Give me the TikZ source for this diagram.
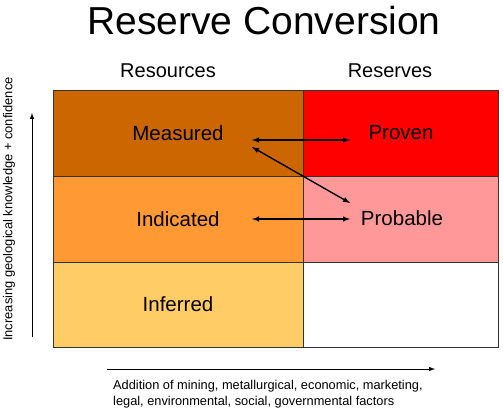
\documentclass[tikz,border=0pt]{standalone}
\usepackage{fontspec}
\setmainfont{Liberation Sans}
\usetikzlibrary{calc}

\definecolor{measuredcol}{HTML}{CC6600}
\definecolor{provencol}{HTML}{FF0000}
\definecolor{indicatedcol}{HTML}{FF9933}
\definecolor{probablecol}{HTML}{FF9999}
\definecolor{inferredcol}{HTML}{FFCC66}

\begin{document}
\begin{tikzpicture}[x=1pt, y=-1pt,
    cell/.style={draw=black!80, line width=0.8pt},
    celltext/.style={font=\fontsize{20.5}{24}\selectfont},
    linkarrow/.style={<->, >=latex, line width=1.4pt}]

    % Fix the page size
    \useasboundingbox (0,0) rectangle (503,412);

    % Title and column heads
    \node (title) at (264,21) {\fontsize{39}{44}\selectfont Reserve Conversion};
    \node (res) at (168,71) {\fontsize{20}{24}\selectfont Resources};
    \node (rsv) at (390,71) {\fontsize{20}{24}\selectfont Reserves};

    % Draw the cells
    \fill[measuredcol] (53,90) rectangle (303,176);
    \fill[provencol] (303,90) rectangle (498,176);
    \fill[indicatedcol] (53,176) rectangle (303,262);
    \fill[probablecol] (303,176) rectangle (498,262);
    \fill[inferredcol] (53,262) rectangle (303,347);
    \draw[cell] (53,90) rectangle (498,347);
    \draw[cell] (303,90) -- (303,347);
    \draw[cell] (53,176) -- (498,176);
    \draw[cell] (53,262) -- (498,262);

    % Cell labels
    \node[celltext] (meas) at (178,133) {Measured};
    \node[celltext] (prov) at (401,133) {Proven};
    \node[celltext] (ind) at (178,219) {Indicated};
    \node[celltext] (prob) at (402,218) {Probable};
    \node[celltext] (inf) at (178,304) {Inferred};

    % Ends of the conversion arrows
    \coordinate (measR) at (252,140);
    \coordinate (measD) at (252,147);
    \coordinate (provL) at (350,140);
    \coordinate (probL) at (350,203);
    \coordinate (indR) at (252,219);
    \coordinate (probM) at (350,219);

    \draw[linkarrow] (measR) -- (provL);
    \draw[linkarrow] (measD) -- (probL);
    \draw[linkarrow] (indR) -- (probM);

    % Axis arrows
    \coordinate (vlow) at (32,337);
    \coordinate (vtop) at (32,113);
    \draw[->, >=latex, line width=1pt] (vlow) -- (vtop);
    \node[rotate=90, font=\fontsize{12.9}{15}\selectfont] (vlab) at (9,209) {Increasing geological knowledge + confidence};

    \coordinate (hlow) at (107,369);
    \coordinate (htop) at (435,369);
    \draw[->, >=latex, line width=1pt] (hlow) -- (htop);
    \node[anchor=north west, align=left, inner sep=0pt, font=\fontsize{12.8}{16}\selectfont] (hlab) at (113,380)
        {Addition of mining, metallurgical, economic, marketing,\\
         legal, environmental, social, governmental factors};

\end{tikzpicture}
\end{document}
